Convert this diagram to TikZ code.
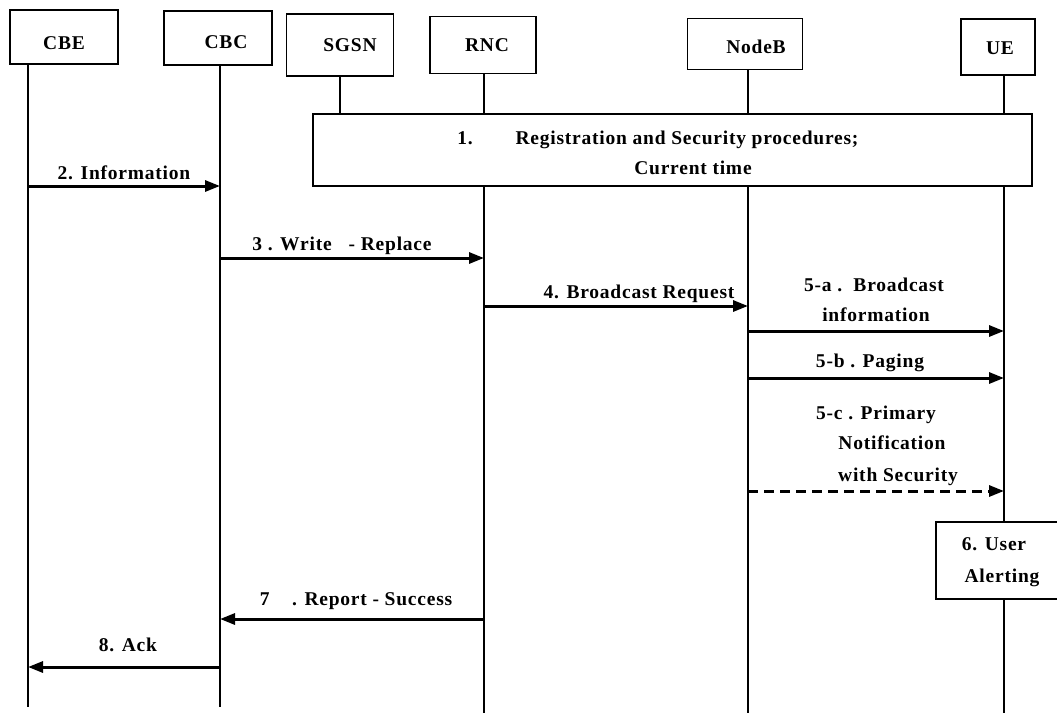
\documentclass[tikz,border=0pt]{standalone}
\usepackage{fontspec}
\setmainfont{Liberation Serif}[LetterSpace=4]
\usetikzlibrary{arrows.meta}
\begin{document}
\begin{tikzpicture}[x=1pt,y=-1pt,
  box/.style={draw, line width=1.5pt, inner sep=0pt, fill=white},
  lbl/.style={anchor=base, inner sep=0pt, font=\fontsize{19.5}{23}\selectfont\bfseries, align=center},
  life/.style={line width=1.5pt},
  msg/.style={line width=3pt, -{Triangle[length=15pt,width=11pt]}},
  dmsg/.style={msg, dash pattern=on 10pt off 6pt}]
\useasboundingbox (0,0) rectangle (1057,713);
% entity boxes
\node[box, minimum width=108pt, minimum height=54pt] (cbe)   at (64,37) {};
\node[box, minimum width=108pt, minimum height=54pt] (cbc)   at (218,38) {};
\node[box, minimum width=107pt, minimum height=62pt] (sgsn)  at (340,45) {};
\node[box, minimum width=106pt, minimum height=57pt] (rnc)   at (483,45) {};
\node[box, minimum width=115pt, minimum height=51pt] (nodeb) at (745,44) {};
\node[box, minimum width=74pt,  minimum height=56pt] (ue)    at (998,47) {};
\node[lbl] (tcbe)   at (64,49)  {CBE};
\node[lbl] (tcbc)   at (226,48) {CBC};
\node[lbl] (tsgsn)  at (350,51) {SGSN};
\node[lbl] (trnc)   at (487,51) {RNC};
\node[lbl] (tnodeb) at (756,53) {NodeB};
\node[lbl] (tue)    at (1000,54) {UE};
% registration box
\node[box, minimum width=719pt, minimum height=72pt] (reg) at (672.5,150) {};
\node[lbl] (t1a) at (465,144) {1.};
\node[lbl] (t1b) at (687,144) {Registration and Security procedures;};
\node[lbl] (t1c) at (693,174) {Current time};
% user alerting box
\node[box, minimum width=122pt, minimum height=77pt] (alert) at (997,560.5) {};
\node[lbl] (t6a) at (994,550) {6. User};
\node[lbl] (t6b) at (1002,582) {Alerting};
% lifeline coordinates
\coordinate (cbeE) at (28,707);
\coordinate (cbcE) at (220,707);
\coordinate (rncE) at (484,713);
\coordinate (nodebE) at (748,713);
\coordinate (ueE) at (1004,713);
\draw[life] (cbe.south -| cbeE) -- (cbeE);
\draw[life] (cbc.south -| cbcE) -- (cbcE);
\draw[life] (sgsn.south) -- (sgsn.south |- reg.north);
\draw[life] (rnc.south -| rncE) -- (reg.north -| rncE);
\draw[life] (reg.south -| rncE) -- (rncE);
\draw[life] (nodeb.south -| nodebE) -- (reg.north -| nodebE);
\draw[life] (reg.south -| nodebE) -- (nodebE);
\draw[life] (ue.south -| ueE) -- (reg.north -| ueE);
\draw[life] (reg.south -| ueE) -- (alert.north -| ueE);
\draw[life] (alert.south -| ueE) -- (ueE);
% message coordinates
\coordinate (m2a) at (28,186);  \coordinate (m2b) at (220,186);
\coordinate (m3a) at (220,258); \coordinate (m3b) at (484,258);
\coordinate (m4a) at (484,306); \coordinate (m4b) at (748,306);
\coordinate (m5aa) at (748,331); \coordinate (m5ab) at (1004,331);
\coordinate (m5ba) at (748,378); \coordinate (m5bb) at (1004,378);
\coordinate (m5ca) at (748,491); \coordinate (m5cb) at (1004,491);
\coordinate (m7a) at (484,619); \coordinate (m7b) at (220,619);
\coordinate (m8a) at (220,667); \coordinate (m8b) at (28,667);
\draw[msg] (m2a) -- (m2b);
\draw[msg] (m3a) -- (m3b);
\draw[msg] (m4a) -- (m4b);
\draw[msg] (m5aa) -- (m5ab);
\draw[msg] (m5ba) -- (m5bb);
\draw[dmsg] (m5ca) -- (m5cb);
\draw[msg] (m7a) -- (m7b);
\draw[msg] (m8a) -- (m8b);
% message labels
\node[lbl] (t2) at (124,179) {2. Information};
\node[lbl] (t3) at (342,250) {3 . Write\ \ \ - Replace};
\node[lbl] (t4) at (639,298) {4. Broadcast Request};
\node[lbl] (t5a1) at (874,291) {5-a .\ \ Broadcast};
\node[lbl] (t5a2) at (876,321) {information};
\node[lbl] (t5b) at (870,367) {5-b . Paging};
\node[lbl] (t5c1) at (876,419) {5-c . Primary};
\node[lbl] (t5c2) at (892,449) {Notification};
\node[lbl] (t5c3) at (898,481) {with Security};
\node[lbl] (t7) at (356,605) {7\ \ \ \ . Report - Success};
\node[lbl] (t8) at (128,651) {8. Ack};
\end{tikzpicture}
\end{document}
